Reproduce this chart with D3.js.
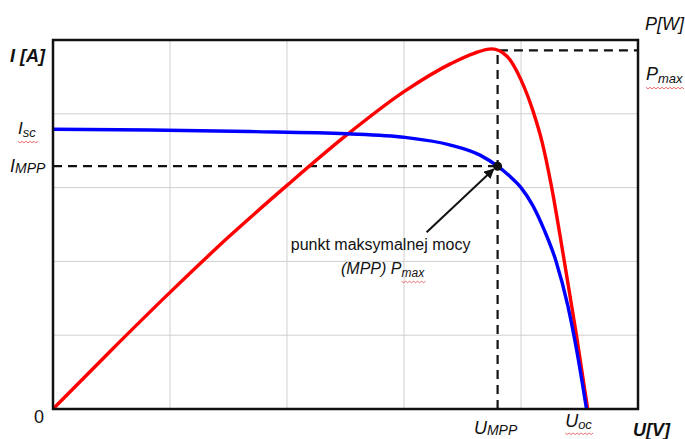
<!DOCTYPE html>
<html>
<head>
<meta charset="utf-8">
<script src="https://cdn.jsdelivr.net/npm/d3@7"></script>
<style>
  body { margin: 0; background: #fff; }
  svg text { font-family: "Liberation Sans", Arial, sans-serif; fill: #111; }
  .grid line { stroke: #cfcfcf; stroke-width: 1; }
  .frame { fill: none; stroke: #111; stroke-width: 2.5; }
  .guide { stroke: #111; stroke-width: 2.2; stroke-dasharray: 9,6; fill: none; }
  .curve { fill: none; stroke-width: 3.4; stroke-linejoin: round; }
  .squiggle { fill: none; stroke: #e03030; stroke-width: 0.7; }
</style>
</head>
<body>
<div id="chart"></div>
<script>
// --- data (grid units, 5 x 5 cells) ---
const uCurrent = [0, 0.83, 1.68, 2.51, 3.01, 3.39, 3.65, 3.80, 3.90, 4.00, 4.10, 4.20, 4.30, 4.40, 4.48, 4.56];
const iCurrent = [3.79, 3.78, 3.76, 3.73, 3.68, 3.58, 3.44, 3.29, 3.16, 3.00, 2.76, 2.42, 2.00, 1.40, 0.76, 0];

const uPower = [0, 0.5, 1.0, 1.5, 2.0, 2.5, 3.0, 3.4, 3.6, 3.75, 3.88, 4.00, 4.10, 4.18, 4.26, 4.36, 4.47, 4.57];
const pPower = [0, 0.80, 1.58, 2.33, 3.03, 3.70, 4.30, 4.68, 4.82, 4.88, 4.78, 4.46, 4.05, 3.62, 3.02, 2.10, 1.04, 0];

const gridTicks = [1, 2, 3, 4];
const Isc = 3.79, Impp = 3.29, Umpp = 3.80, Uoc = 4.56, Pmax = 4.86;

const width = 685, height = 439;
const margin = { left: 53, right: 47, top: 40, bottom: 30 };
const plotW = width - margin.left - margin.right;
const plotH = height - margin.top - margin.bottom;

const x = d3.scaleLinear().domain([0, 5]).range([margin.left, margin.left + plotW]);
const yI = d3.scaleLinear().domain([0, 5]).range([margin.top + plotH, margin.top]);
const yP = d3.scaleLinear().domain([0, 5]).range([margin.top + plotH, margin.top]);

const svg = d3.select("#chart").append("svg")
    .attr("width", width)
    .attr("height", height);

// grid
const grid = svg.append("g").attr("class", "grid");
grid.selectAll(".gx").data(gridTicks).enter().append("line")
    .attr("x1", d => x(d)).attr("x2", d => x(d))
    .attr("y1", yI(0)).attr("y2", yI(5));
grid.selectAll(".gy").data(gridTicks).enter().append("line")
    .attr("x1", x(0)).attr("x2", x(5))
    .attr("y1", d => yI(d)).attr("y2", d => yI(d));

// dashed guides
svg.append("path").attr("class", "guide")
    .attr("d", `M${x(0)},${yI(Impp)}H${x(Umpp)}`);
svg.append("path").attr("class", "guide")
    .attr("d", `M${x(Umpp)},${yI(0)}V${yP(Pmax)}H${x(5)}`);

// curves
const curveLine = d3.line().curve(d3.curveMonotoneX);
svg.append("path").attr("class", "curve")
    .attr("stroke", "#ff0000")
    .attr("d", curveLine(uPower.map((u, k) => [x(u), yP(pPower[k])])));
svg.append("path").attr("class", "curve")
    .attr("stroke", "#0000ff")
    .attr("d", curveLine(uCurrent.map((u, k) => [x(u), yI(iCurrent[k])])));

// frame
svg.append("rect").attr("class", "frame")
    .attr("x", x(0)).attr("y", yI(5))
    .attr("width", x(5) - x(0)).attr("height", yI(0) - yI(5));

// MPP point + arrow
svg.append("defs").append("marker")
    .attr("id", "arrow")
    .attr("viewBox", "0 0 10 10")
    .attr("refX", 9).attr("refY", 5)
    .attr("markerWidth", 5).attr("markerHeight", 5)
    .attr("orient", "auto")
    .append("path").attr("d", "M0,0L10,5L0,10z").attr("fill", "#111");

svg.append("circle")
    .attr("cx", x(Umpp)).attr("cy", yI(Impp)).attr("r", 4.5)
    .attr("fill", "#111");

svg.append("line")
    .attr("x1", x(Umpp) - 71).attr("y1", yI(Impp) + 66)
    .attr("x2", x(Umpp) - 4).attr("y2", yI(Impp) + 3)
    .attr("stroke", "#111").attr("stroke-width", 2)
    .attr("marker-end", "url(#arrow)");

// text helpers
function squiggle(textSel, fromChild) {
    const node = fromChild ? textSel.select("tspan.sub").node() : textSel.node();
    const bb = node.getBBox();
    const y0 = bb.y + bb.height + 1;
    let d = `M${bb.x},${y0}`;
    for (let px = bb.x, k = 0; px < bb.x + bb.width; px += 2, k++) {
        d += `L${px + 2},${y0 + (k % 2 ? 0 : 1.5)}`;
    }
    svg.append("path").attr("class", "squiggle").attr("d", d);
}

function subLabel(px, py, main, sub, opts) {
    const t = svg.append("text")
        .attr("x", px).attr("y", py)
        .attr("font-size", opts.size)
        .attr("font-style", "italic")
        .attr("text-anchor", opts.anchor || "start");
    t.append("tspan").text(main);
    t.append("tspan").attr("class", "sub")
        .attr("font-size", opts.subSize)
        .attr("dy", opts.dy)
        .text(sub);
    return t;
}

// axis titles
svg.append("text").attr("x", 10).attr("y", 62)
    .attr("font-size", 18).attr("font-weight", "bold").attr("font-style", "italic")
    .text("I [A]");
svg.append("text").attr("x", 645).attr("y", 30)
    .attr("font-size", 18).attr("font-style", "italic")
    .text("P[W]");
svg.append("text").attr("x", 633).attr("y", 436)
    .attr("font-size", 18).attr("font-weight", "bold").attr("font-style", "italic")
    .text("U[V]");
svg.append("text").attr("x", x(0) - 14).attr("y", yI(0) + 14)
    .attr("font-size", 18).attr("text-anchor", "middle")
    .text("0");

// value labels
const isc = subLabel(18, yI(Isc) + 5, "I", "sc", { size: 17, subSize: 13, dy: 3 });
squiggle(isc);
subLabel(10, yI(Impp) + 6, "I", "MPP", { size: 18, subSize: 14, dy: 1 });
const pm = subLabel(646, yP(Pmax) + 30, "P", "max", { size: 18, subSize: 13, dy: 3 });
squiggle(pm);
subLabel(x(Umpp) - 2, yI(0) + 25, "U", "MPP", { size: 18, subSize: 14, dy: 1, anchor: "middle" });
const uoc = subLabel(x(Uoc) - 8, yI(0) + 18, "U", "oc", { size: 18, subSize: 13, dy: 2, anchor: "middle" });
squiggle(uoc);

// annotation
svg.append("text")
    .attr("x", x(Umpp) - 117).attr("y", yI(Impp) + 84)
    .attr("font-size", 16).attr("text-anchor", "middle")
    .attr("fill", "#333")
    .text("punkt maksymalnej mocy");
const ann = subLabel(x(Umpp) - 115, yI(Impp) + 108, "(MPP) P", "max",
    { size: 16, subSize: 12, dy: 3, anchor: "middle" });
ann.attr("fill", "#333");
squiggle(ann, true);
</script>
</body>
</html>
